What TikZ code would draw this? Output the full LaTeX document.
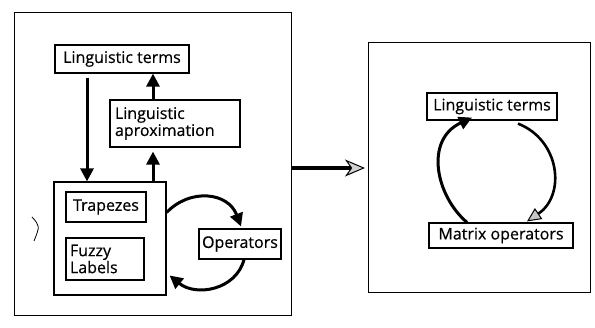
\documentclass[tikz,border=0pt]{standalone}
\usepackage{fontspec}
\setmainfont{Open Sans}[FakeBold=0.5]
\usetikzlibrary{arrows.meta,calc}
\begin{document}
\begin{tikzpicture}[x=1pt,y=-1pt,
  box/.style={draw,line width=1.2pt,inner sep=2pt,font=\fontsize{16}{18}\selectfont},
  frame/.style={draw,line width=1pt},
  arr/.style={line width=3pt,-{Triangle[length=13pt,width=13pt]}},
  harr/.style={line width=2.6pt,-{Triangle[length=14pt,width=13pt,fill=gray!45,line width=1pt]}}]
\useasboundingbox (0,0) rectangle (595,327);
% outer frames
\draw[frame] (14,12) rectangle (291,315);
\draw[frame] (368,42) rectangle (590,292);
% left nodes
\node[box,minimum width=134pt,minimum height=28pt] (lt) at (122,59) {Linguistic terms};
\node[box,minimum width=130pt,minimum height=47pt,align=left,text width=120pt,font=\fontsize{16}{17}\selectfont] (la) at (175,123.5) {Linguistic\\aproximation};
\node[draw,line width=1.2pt,minimum width=112pt,minimum height=113pt] (big) at (110,238.5) {};
\node[box,minimum width=80pt,minimum height=30pt] (tr) at (106,207) {Trapezes};
\node[box,minimum width=78pt,minimum height=42pt,align=left,text width=70pt,font=\fontsize{16}{17}\selectfont] (fl) at (105,259) {Fuzzy\\Labels};
\node[box,minimum width=82pt,minimum height=30pt] (op) at (240,244) {Operators};
% right nodes
\node[box,minimum width=130pt,minimum height=27pt] (lt2) at (492,106.5) {Linguistic terms};
\node[box,minimum width=144pt,minimum height=25pt] (mo) at (501,235.5) {Matrix operators};
% helper coordinates
\coordinate (xa) at (87,0);
\coordinate (xb) at (153,0);
% left connectors
\draw[arr] ([yshift=-4pt]lt.south -| xa) -- (big.north -| xa);
\draw[arr] (big.north -| xb) -- ([yshift=-4pt]la.south -| xb);
\draw[arr] (la.north -| xb) -- (lt.south -| xb);
\draw[arr] ([yshift=26pt]big.east) .. controls (190,188) and (228,192) .. ([xshift=1pt,yshift=2pt]op.north);
\draw[arr] ([xshift=4pt]op.south) .. controls (236,290) and (196,297) .. ([xshift=3pt,yshift=-37pt]big.east);
% big arrow between frames
\coordinate (mid) at (291,168);
\draw[line width=3.5pt,-{Stealth[length=20pt,width=17pt,inset=6pt,fill=gray!35,line width=1pt]}] (mid) -- (mid -| 365,0);
% right connectors
\draw[arr] ([xshift=-34pt]mo.north) .. controls (436,196) and (424,140) .. ([xshift=-20pt,yshift=3pt]lt2.south);
\draw[harr] ([xshift=26pt,yshift=-3pt]lt2.south) .. controls (560,140) and (566,195) .. ([xshift=26pt,yshift=1pt]mo.north);
% stray mark
\draw[line width=0.8pt] (32,217) .. controls (40,226) .. (34,241);
\end{tikzpicture}
\end{document}
